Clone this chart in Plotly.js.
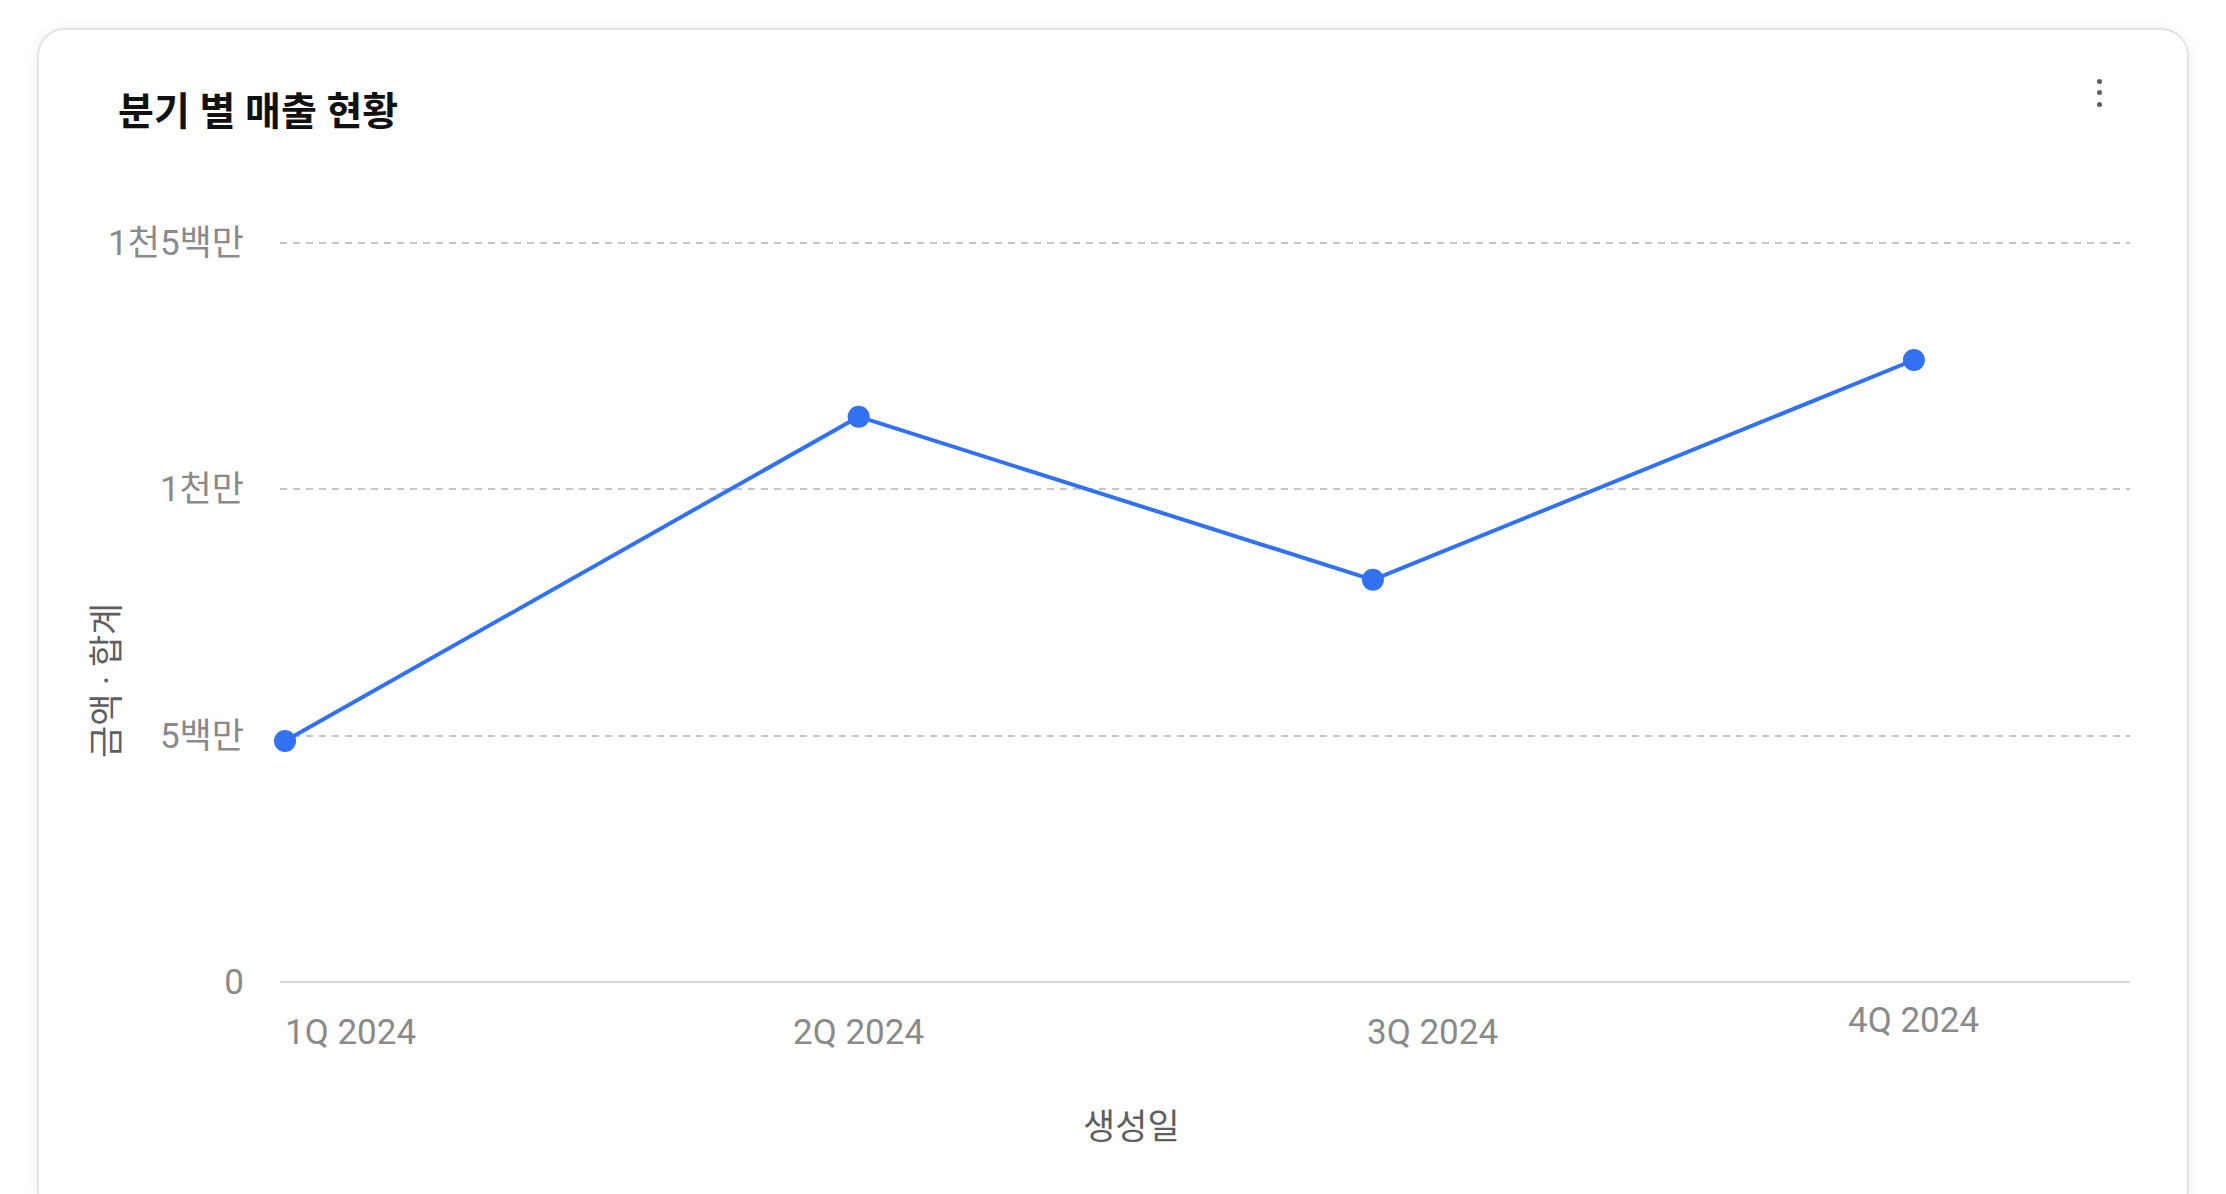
<!DOCTYPE html>
<html>
<head>
<meta charset="utf-8">
<script src="https://cdn.plot.ly/plotly-3.0.1.min.js"></script>
<style>
  html, body { margin: 0; padding: 0; background: #ffffff; width: 2226px; height: 1194px; overflow: hidden; }
  #card {
    position: absolute; left: 37px; top: 28px; width: 2152px; height: 1190px;
    border: 2px solid #e4e4e4; border-radius: 28px; background: #ffffff;
    box-shadow: 0 0 12px rgba(0,0,0,0.07); box-sizing: border-box;
  }
  #chart { position: absolute; left: 0; top: 0; width: 2226px; height: 1194px; }
  .dot { position: absolute; width: 5px; height: 5px; border-radius: 50%; background: #5f5f5f; left: 2097px; }
</style>
</head>
<body>
<div id="card"></div>
<div id="chart"></div>
<div class="dot" style="top:79px"></div>
<div class="dot" style="top:90px"></div>
<div class="dot" style="top:102px"></div>
<script>
// ---- data ----
const quarters = ['1Q 2024', '2Q 2024', '3Q 2024', '4Q 2024'];
const pointDates = ['2024-01-01', '2024-04-06 12:00', '2024-07-02', '2024-10-01'];
const sales = [4890000, 11470000, 8160000, 12620000];
const labelDates = ['2024-01-01', '2024-04-06 12:00', '2024-07-12', '2024-10-01'];
const yTickVals = [0, 5000000, 10000000, 15000000];
const yTickText = ['0', '5백만', '1천만', '1천5백만'];
const chartTitle = '분기 별 매출 현황';
const xTitle = '생성일';
const yTitle = '금액 · 합계';

// ---- styles ----
const FONT = "Roboto, 'Noto Sans CJK KR', sans-serif";
const blue = '#3272f1';
const labelStyle = [
  { xanchor: 'left', xshift: -2, yshift: -50 },
  { xanchor: 'center', xshift: 0, yshift: -50 },
  { xanchor: 'center', xshift: 0, yshift: -50 },
  { xanchor: 'center', xshift: 0, yshift: -38 }
];

const trace = {
  type: 'scatter',
  mode: 'lines+markers',
  x: pointDates,
  y: sales,
  line: { color: blue, width: 4 },
  marker: { color: blue, size: 22 },
  cliponaxis: false,
  hoverinfo: 'x+y'
};

const annotations = quarters.map((q, i) => ({
  text: q,
  x: labelDates[i], xref: 'x',
  y: 0, yref: 'paper',
  xanchor: labelStyle[i].xanchor, yanchor: 'middle',
  xshift: labelStyle[i].xshift, yshift: labelStyle[i].yshift,
  showarrow: false,
  font: { family: FONT, size: 35, color: '#8a8a8a' }
}));

annotations.push({
  text: xTitle, xref: 'paper', x: 0, xshift: 851, yref: 'paper', y: 0, yshift: -145,
  xanchor: 'center', yanchor: 'middle', showarrow: false,
  font: { family: FONT, size: 35, color: '#5f5f5f' }
});
annotations.push({
  text: yTitle, xref: 'paper', x: 0, xshift: -173, yref: 'paper', y: 0, yshift: 301,
  xanchor: 'center', yanchor: 'middle', showarrow: false, textangle: -90,
  font: { family: FONT, size: 35, color: '#5f5f5f' }
});

const layout = {
  width: 2226, height: 1194,
  margin: { l: 280, r: 96, t: 223, b: 212, pad: 0 },
  paper_bgcolor: 'rgba(0,0,0,0)',
  plot_bgcolor: 'rgba(0,0,0,0)',
  showlegend: false,
  font: { family: FONT, color: '#8a8a8a' },
  title: {
    text: chartTitle,
    xref: 'container', x: 118 / 2226, xanchor: 'left',
    yref: 'container', y: 1 - 111 / 1194, yanchor: 'middle',
    font: { family: FONT, size: 39, color: '#111111', weight: 'bold' }
  },
  xaxis: {
    type: 'date',
    range: ['2023-12-31 03:50', '2024-11-06 08:24'],
    showticklabels: false, showgrid: false, zeroline: false, showline: false,
    ticks: '', fixedrange: true
  },
  yaxis: {
    range: [0, 15400000],
    tickvals: yTickVals, ticktext: yTickText,
    tickfont: { family: FONT, size: 35, color: '#8a8a8a' },
    ticks: 'outside', ticklen: 28, tickcolor: 'rgba(0,0,0,0)',
    showgrid: true, gridcolor: '#c6c6c6', gridwidth: 2, griddash: '7px,6px',
    zeroline: true, zerolinecolor: '#d9d9d9', zerolinewidth: 2.5,
    showline: false, fixedrange: true
  },
  annotations: annotations
};

Plotly.newPlot('chart', [trace], layout, { displayModeBar: false, staticPlot: true });
</script>
</body>
</html>
